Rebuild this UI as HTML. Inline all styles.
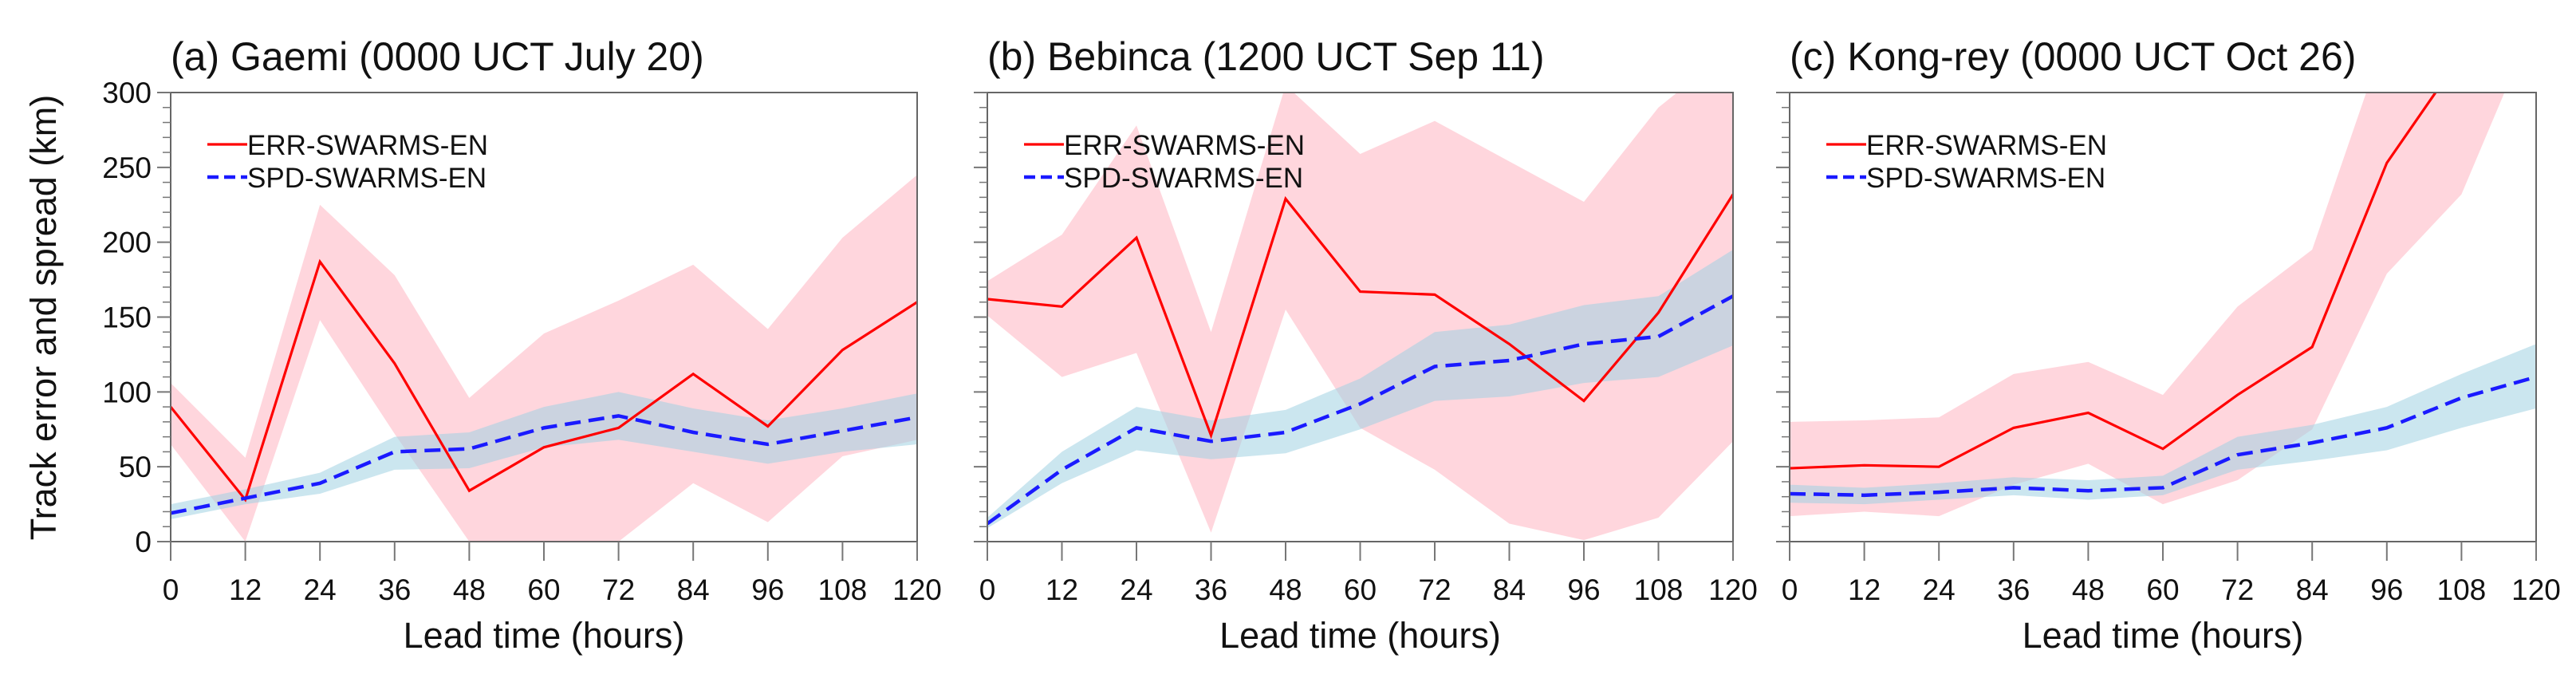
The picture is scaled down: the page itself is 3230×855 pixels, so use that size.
<!DOCTYPE html>
<html><head><meta charset="utf-8"><style>
html,body{margin:0;padding:0;background:#fff}
svg{display:block;font-family:"Liberation Sans",sans-serif}
</style></head><body>
<svg id="chart" width="3230" height="855" viewBox="0 0 3230 855" xmlns="http://www.w3.org/2000/svg"></svg>
<script>
const hours = [0,12,24,36,48,60,72,84,96,108,120];
const yTicks = [0,50,100,150,200,250,300];
const titles = ["(a) Gaemi (0000 UCT July 20)","(b) Bebinca (1200 UCT Sep 11)","(c) Kong-rey (0000 UCT Oct 26)"];
const errA = [90,28,187,119,34,63,76,112,77,128,160];
const errHiA = [106,56,225,178,96,139,161,185,142,203,245];
const errLoA = [65,0,148,72,0,0,0,39,13,57,68];
const spdA = [19,29,39,60,62,76,84,73,65,74,83];
const spdHiA = [25,35,46,70,73,90,100,89,81,89,99];
const spdLoA = [15,25,32,48,49,63,68,60,52,60,65];
const errB = [162,157,203,71,229,167,165,132,94,153,232];
const errHiB = [174,205,278,140,305,259,281,254,227,290,330];
const errLoB = [151,110,126,6,155,76,48,12,1,16,67];
const spdB = [12,48,76,67,73,92,117,121,132,137,164];
const spdHiB = [16,60,90,81,88,109,140,145,158,164,195];
const spdLoB = [9,39,61,55,59,75,94,97,106,110,131];
const errC = [49,51,50,76,86,62,98,130,253,325,360];
const errHiC = [80,81,83,112,120,98,157,195,340,380,400];
const errLoC = [17,20,17,38,52,25,41,75,179,232,350];
const spdC = [32,31,33,36,34,36,58,66,76,96,110];
const spdHiC = [38,36,39,43,41,44,70,78,90,112,132];
const spdLoC = [26,25,28,31,28,31,48,54,61,76,89];

const panels = [
 {x0:214,x1:1150,err:errA,eh:errHiA,el:errLoA,spd:spdA,sh:spdHiA,sl:spdLoA,labels:true},
 {x0:1238,x1:2173,err:errB,eh:errHiB,el:errLoB,spd:spdB,sh:spdHiB,sl:spdLoB,labels:false},
 {x0:2244,x1:3180,err:errC,eh:errHiC,el:errLoC,spd:spdC,sh:spdHiC,sl:spdLoC,labels:false}
];
const Y0=679, Y1=116, YMAX=300;
const NS="http://www.w3.org/2000/svg";
const svg=document.getElementById('chart');
function mk(tag,attrs,parent){const e=document.createElementNS(NS,tag);for(const k in attrs)e.setAttribute(k,attrs[k]);(parent||svg).appendChild(e);return e;}
const defs=mk('defs',{});
panels.forEach((p,i)=>{
  const sx=h=>p.x0+(h/120)*(p.x1-p.x0);
  const sy=v=>Y0-(v/YMAX)*(Y0-Y1);
  const cp=mk('clipPath',{id:'clip'+i},defs);
  mk('rect',{x:p.x0,y:Y1,width:p.x1-p.x0,height:Y0-Y1},cp);
  const g=mk('g',{});
  
  
  const plot=mk('g',{'clip-path':'url(#clip'+i+')'},g);
  const band=(hi,lo)=>hours.map((h,k)=>sx(h)+','+sy(hi[k])).concat(hours.slice().reverse().map((h,k)=>{const j=hours.length-1-k;return sx(hours[j])+','+sy(lo[j]);})).join(' ');
  const eb=mk('polygon',{points:band(p.eh,p.el),fill:'#ffd6dd'},plot);
  
  
  const sb=mk('polygon',{points:band(p.sh,p.sl),fill:'rgb(160,210,225)','fill-opacity':0.55},plot);
  
  
  const el=mk('polyline',{points:hours.map((h,k)=>sx(h)+','+sy(p.err[k])).join(' '),fill:'none',stroke:'#ff0000','stroke-width':3.2},plot);
  
  
  const sl=mk('polyline',{points:hours.map((h,k)=>sx(h)+','+sy(p.spd[k])).join(' '),fill:'none',stroke:'#1a1aff','stroke-width':4.5,'stroke-dasharray':'20 10'},plot);
  
  
  const fr=mk('rect',{x:p.x0,y:Y1,width:p.x1-p.x0,height:Y0-Y1,fill:'none',stroke:'#666','stroke-width':2},g);
  
  
  for(let v=0;v<=300;v+=10){
    const major=v%50===0;
    mk('line',{x1:p.x0-(major?17:10),x2:p.x0,y1:sy(v),y2:sy(v),stroke:'#777','stroke-width':major?2:1.5},g);
  }
  if(p.labels){
    yTicks.forEach(v=>{
      const t=mk('text',{x:p.x0-24,y:sy(v)+13,'text-anchor':'end','font-size':37,fill:'#111'},g);
      t.textContent=v;
      
      
    });
  }
  hours.forEach(h=>{
    mk('line',{x1:sx(h),x2:sx(h),y1:Y0,y2:Y0+24,stroke:'#777','stroke-width':2},g);
    const t=mk('text',{x:sx(h),y:752,'text-anchor':'middle','font-size':37,fill:'#111'},g);
    t.textContent=h;
    
    
  });
  const xt=mk('text',{x:(p.x0+p.x1)/2,y:812,'text-anchor':'middle','font-size':45,fill:'#111'},g);
  xt.textContent='Lead time (hours)';
  
  
  const tt=mk('text',{x:p.x0,y:88,'font-size':50,fill:'#111'},g);
  tt.textContent=titles[i];
  
  
  const lg=mk('g',{},g);
  
  
  const lx=p.x0+46;
  mk('line',{x1:lx,x2:lx+50,y1:181,y2:181,stroke:'#ff0000','stroke-width':3.2},lg);
  const l1=mk('text',{x:lx+50,y:194,'font-size':35,fill:'#111'},lg);
  l1.textContent='ERR-SWARMS-EN';
  
  
  mk('line',{x1:lx,x2:lx+50,y1:222,y2:222,stroke:'#1a1aff','stroke-width':4.5,'stroke-dasharray':'14 7'},lg);
  const l2=mk('text',{x:lx+50,y:235,'font-size':35,fill:'#111'},lg);
  l2.textContent='SPD-SWARMS-EN';
  
  
});
const yt=mk('text',{x:0,y:0,'text-anchor':'middle','font-size':45,fill:'#111',transform:'translate(70,398) rotate(-90)'});
yt.textContent='Track error and spread (km)';


</script>
</body></html>
